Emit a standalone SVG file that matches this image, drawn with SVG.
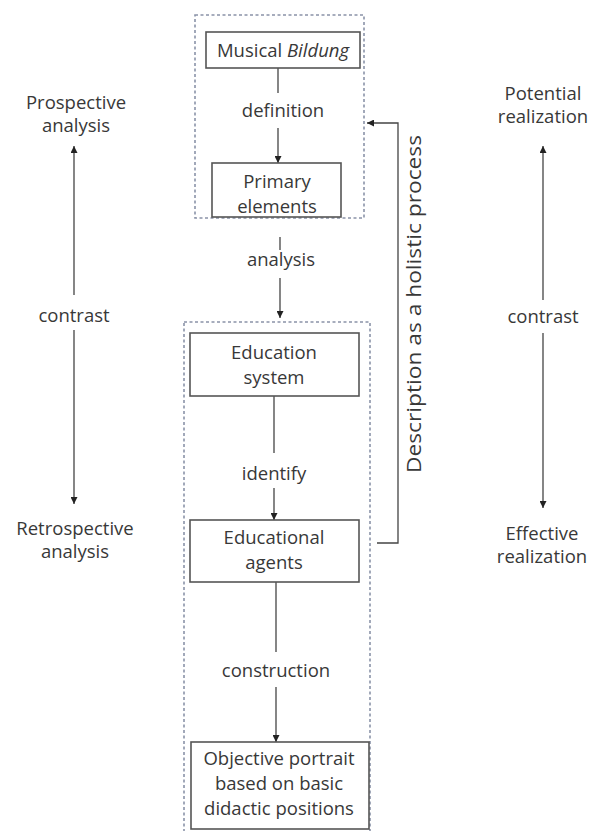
<svg xmlns="http://www.w3.org/2000/svg" width="594" height="831" viewBox="0 0 594 831">
<style>
text{font-family:"Open Sans","Liberation Sans",sans-serif;font-size:18.5px;fill:#383838;text-anchor:middle}
.box{fill:#fff;stroke:#555;stroke-width:1.6}
.grp{fill:none;stroke:#8a93a8;stroke-width:1.6;stroke-dasharray:3 2.5}
.ln{fill:none;stroke:#444;stroke-width:1.3}
</style>
<defs>
<marker id="ah" viewBox="0 0 10 10" refX="10" refY="5" markerWidth="7" markerHeight="7" markerUnits="userSpaceOnUse" orient="auto">
<path d="M0,0 L10,5 L0,10 Z" fill="#222"/>
</marker>
</defs>
<rect width="594" height="831" fill="#fff"/>
<g id="groups">
<rect class="grp" x="195" y="15" width="169" height="203"/>
<rect class="grp" x="184" y="322" width="186" height="520"/>
</g>
<g id="connectors">
<line class="ln" x1="278" y1="68" x2="278" y2="93"/>
<line class="ln" x1="278" y1="128" x2="278" y2="163" marker-end="url(#ah)"/>
<line class="ln" x1="280" y1="237" x2="280" y2="250"/>
<line class="ln" x1="280" y1="278" x2="280" y2="318" marker-end="url(#ah)"/>
<line class="ln" x1="274" y1="396" x2="274" y2="453"/>
<line class="ln" x1="274" y1="488" x2="274" y2="520" marker-end="url(#ah)"/>
<line class="ln" x1="276" y1="582" x2="276" y2="652"/>
<line class="ln" x1="276" y1="687" x2="276" y2="742" marker-end="url(#ah)"/>
<polyline class="ln" points="377,543 398,543 398,123 367,123" marker-end="url(#ah)"/>
<line class="ln" x1="74" y1="295" x2="74" y2="146" marker-end="url(#ah)"/>
<line class="ln" x1="74" y1="330" x2="74" y2="504" marker-end="url(#ah)"/>
<line class="ln" x1="543" y1="300" x2="543" y2="146" marker-end="url(#ah)"/>
<line class="ln" x1="543" y1="333" x2="543" y2="508" marker-end="url(#ah)"/>
</g>
<g id="n-musical">
<rect class="box" x="206" y="32" width="154" height="36"/>
<text x="283" y="57">Musical <tspan font-style="italic">Bildung</tspan></text>
</g>
<g id="n-primary">
<rect class="box" x="212" y="163" width="129" height="54"/>
<text x="277" y="188">Primary</text>
<text x="277" y="213">elements</text>
</g>
<g id="n-education">
<rect class="box" x="190" y="333" width="169" height="63"/>
<text x="274" y="359">Education</text>
<text x="274" y="384">system</text>
</g>
<g id="n-agents">
<rect class="box" x="190" y="520" width="169" height="62"/>
<text x="274" y="544">Educational</text>
<text x="274" y="569">agents</text>
</g>
<g id="n-objective">
<rect class="box" x="191" y="742" width="178" height="87"/>
<text x="279" y="765">Objective portrait</text>
<text x="279" y="790">based on basic</text>
<text x="279" y="815">didactic positions</text>
</g>
<g id="labels">
<text x="283" y="117">definition</text>
<text x="281" y="266">analysis</text>
<text x="274" y="480">identify</text>
<text x="276" y="677">construction</text>
<text transform="translate(421,304) rotate(-90)" style="font-size:20px" textLength="338" lengthAdjust="spacingAndGlyphs">Description as a holistic process</text>
</g>
<g id="n-prospective">
<text x="76" y="109">Prospective</text>
<text x="76" y="132">analysis</text>
</g>
<g id="n-contrast-left"><text x="74" y="322">contrast</text></g>
<g id="n-retrospective">
<text x="75" y="535">Retrospective</text>
<text x="75" y="558">analysis</text>
</g>
<g id="n-potential">
<text x="543" y="100">Potential</text>
<text x="543" y="123">realization</text>
</g>
<g id="n-contrast-right"><text x="543" y="323">contrast</text></g>
<g id="n-effective">
<text x="542" y="540">Effective</text>
<text x="542" y="563">realization</text>
</g>
</svg>
